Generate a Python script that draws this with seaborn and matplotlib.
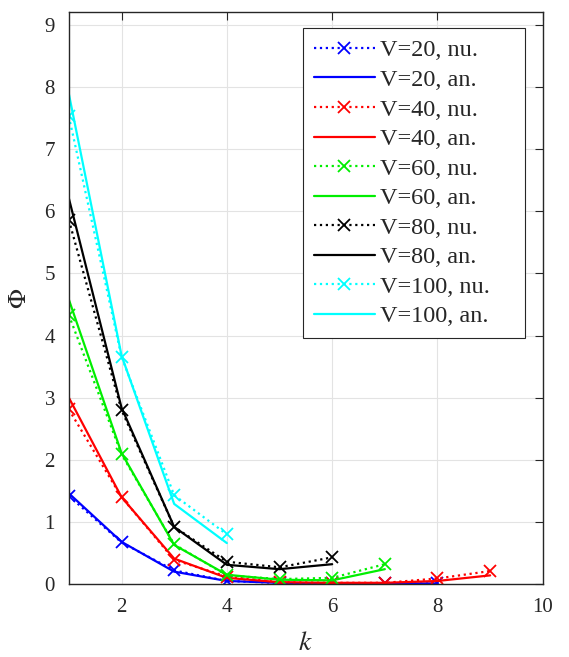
import numpy as np
import pandas as pd
import matplotlib
matplotlib.use("Agg")
import matplotlib.pyplot as plt
import seaborn as sns

# values
speeds = [20, 40, 60, 80, 100]
colors = ["#0000ff", "#ff0000", "#00ee00", "#000000", "#00ffff"]

k_v20 = [1, 2, 3, 4, 5, 6, 7, 8]
nu_v20 = [1.42, 0.67, 0.22, 0.05, 0.02, 0.01, 0.01, 0.01]
an_v20 = [1.46, 0.68, 0.20, 0.05, 0.02, 0.01, 0.01, 0.01]

k_v40 = [1, 2, 3, 4, 5, 6, 7, 8, 9]
nu_v40 = [2.81, 1.40, 0.39, 0.12, 0.03, 0.02, 0.02, 0.09, 0.21]
an_v40 = [3.00, 1.40, 0.41, 0.10, 0.03, 0.02, 0.02, 0.05, 0.14]

k_v60 = [1, 2, 3, 4, 5, 6, 7]
nu_v60 = [4.33, 2.09, 0.64, 0.14, 0.08, 0.10, 0.32]
an_v60 = [4.58, 2.11, 0.63, 0.15, 0.07, 0.06, 0.24]

k_v80 = [1, 2, 3, 4, 5, 6]
nu_v80 = [5.86, 2.80, 0.92, 0.36, 0.27, 0.43]
an_v80 = [6.21, 2.84, 0.92, 0.31, 0.24, 0.32]

k_v100 = [1, 2, 3, 4]
nu_v100 = [7.53, 3.66, 1.43, 0.80]
an_v100 = [7.89, 3.68, 1.29, 0.66]

series = [
    (k_v20, nu_v20, an_v20),
    (k_v40, nu_v40, an_v40),
    (k_v60, nu_v60, an_v60),
    (k_v80, nu_v80, an_v80),
    (k_v100, nu_v100, an_v100),
]

sns.set_style("whitegrid", {"grid.color": "#e3e3e3", "axes.edgecolor": "#262626"})
plt.rcParams["font.family"] = ["Liberation Serif", "DejaVu Serif"]
plt.rcParams["mathtext.fontset"] = "stix"

fig = plt.figure(figsize=(5.69, 6.57), dpi=100)
ax = fig.add_axes([0.121, 0.111, 0.833, 0.870])

for v, c, (k, nu, an) in zip(speeds, colors, series):
    sns.lineplot(x=k, y=nu, ax=ax, color=c, linestyle=":", marker="x",
                 markersize=8, markeredgewidth=1.3, markeredgecolor=c,
                 linewidth=1.6, label=f"V={v}, nu.")
    sns.lineplot(x=k, y=an, ax=ax, color=c, linestyle="-", linewidth=1.6,
                 label=f"V={v}, an.")

ax.set_xlim(1, 10)
ax.set_ylim(0, 9.2)
ax.set_xticks([2, 4, 6, 8, 10])
ax.set_yticks(range(0, 10))
ax.tick_params(axis="both", which="both", direction="in", length=6,
               top=True, right=True, labelsize=15, color="#262626", pad=10)
for s in ax.spines.values():
    s.set_linewidth(1.0)
ax.set_xlabel(r"$k$", fontsize=20, labelpad=10)
ax.set_ylabel(r"$\Phi$", fontsize=19, labelpad=10)

# legend box spans the same area as in the reference (axes fractions)
leg = ax.legend(loc="upper left", fontsize=17.5, frameon=True, fancybox=False,
                edgecolor="#262626", framealpha=1, borderpad=0.45,
                labelspacing=0.31, handlelength=2.5, handletextpad=0.2,
                borderaxespad=0.0, mode="expand",
                bbox_to_anchor=(0.494, 0.43, 0.468, 0.542),
                bbox_transform=ax.transAxes)
leg.get_frame().set_linewidth(0.8)

fig.savefig("out.png", dpi=100)
